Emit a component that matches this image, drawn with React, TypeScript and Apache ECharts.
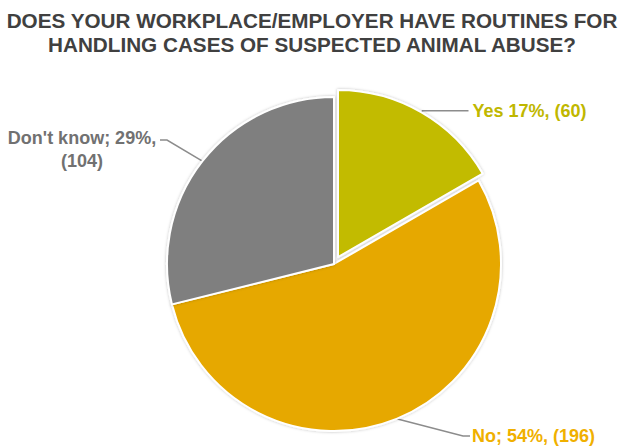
import React, { useEffect, useRef } from "react";
import * as echarts from "echarts";

const titleLines = [
  "DOES YOUR WORKPLACE/EMPLOYER HAVE ROUTINES FOR",
  "HANDLING CASES OF SUSPECTED ANIMAL ABUSE?",
];
const categories = ["Yes", "No", "Don't know"];
const counts = [60, 196, 104];
const percents = [17, 54, 29];
const labelTexts = ["Yes 17%, (60)", "No; 54%, (196)", "Don't know; 29%,\n(104)"];
const sliceColors = ["#c2bb00", "#e6a800", "#7f7f7f"];
const labelColors = ["#bfb700", "#f0b000", "#717171"];

export default function App() {
  const ref = useRef<HTMLDivElement>(null);
  useEffect(() => {
    if (!ref.current) return;
    const chart = echarts.init(ref.current, null, { renderer: "svg" });
    const font = "'Liberation Sans', Arial, sans-serif";
    chart.setOption({
      animation: false,
      backgroundColor: "#ffffff",
      title: {
        text: titleLines.join("\n"),
        left: "center",
        top: 3,
        textStyle: {
          fontFamily: font,
          fontSize: 20.7,
          fontWeight: "bold",
          color: "#404040",
          lineHeight: 24,
        },
      },
      series: [
        {
          type: "pie",
          center: [334, 264],
          radius: 167,
          startAngle: 90,
          clockwise: true,
          selectedMode: "single",
          selectedOffset: 8,
          itemStyle: {
            borderColor: "#ffffff",
            borderWidth: 2,
            shadowBlur: 3,
            shadowColor: "rgba(0,0,0,0.25)",
          },
          label: {
            show: true,
            position: "outside",
            fontFamily: font,
            fontSize: 18,
            fontWeight: "bold",
            lineHeight: 23,
            overflow: "none",
            distanceToLabelLine: 4,
          },
          labelLine: {
            show: true,
            length: 2,
            length2: 46,
            smooth: false,
            lineStyle: { color: "#8c8c8c", width: 1.5 },
          },
          emphasis: { disabled: true },
          labelLayout: (params: any) => {
            const i = params.dataIndex;
            const p = params.labelLinePoints ? params.labelLinePoints[0] : null;
            if (i === 0) {
              return {};
            }
            if (i === 1) {
              return {
                x: 472, y: 436, align: "left", verticalAlign: "middle",
                labelLinePoints: p ? [p, [463, 436], [470, 436]] : undefined,
              };
            }
            return {
              x: 82, y: 149, align: "center", verticalAlign: "middle",
              labelLinePoints: p ? [p, [167, 140], [160, 140]] : undefined,
            };
          },
          data: categories.map((name, i) => ({
            name,
            value: counts[i],
            selected: i === 0,
            itemStyle: { color: sliceColors[i] },
            label: {
              formatter: labelTexts[i],
              color: labelColors[i],
              align: i === 2 ? "center" : "left",
            },
          })),
        },
      ],
    });
    return () => chart.dispose();
  }, []);
  return (
    <div
      ref={ref}
      style={{ position: "fixed", left: 0, top: 0, width: 624, height: 448 }}
    />
  );
}
